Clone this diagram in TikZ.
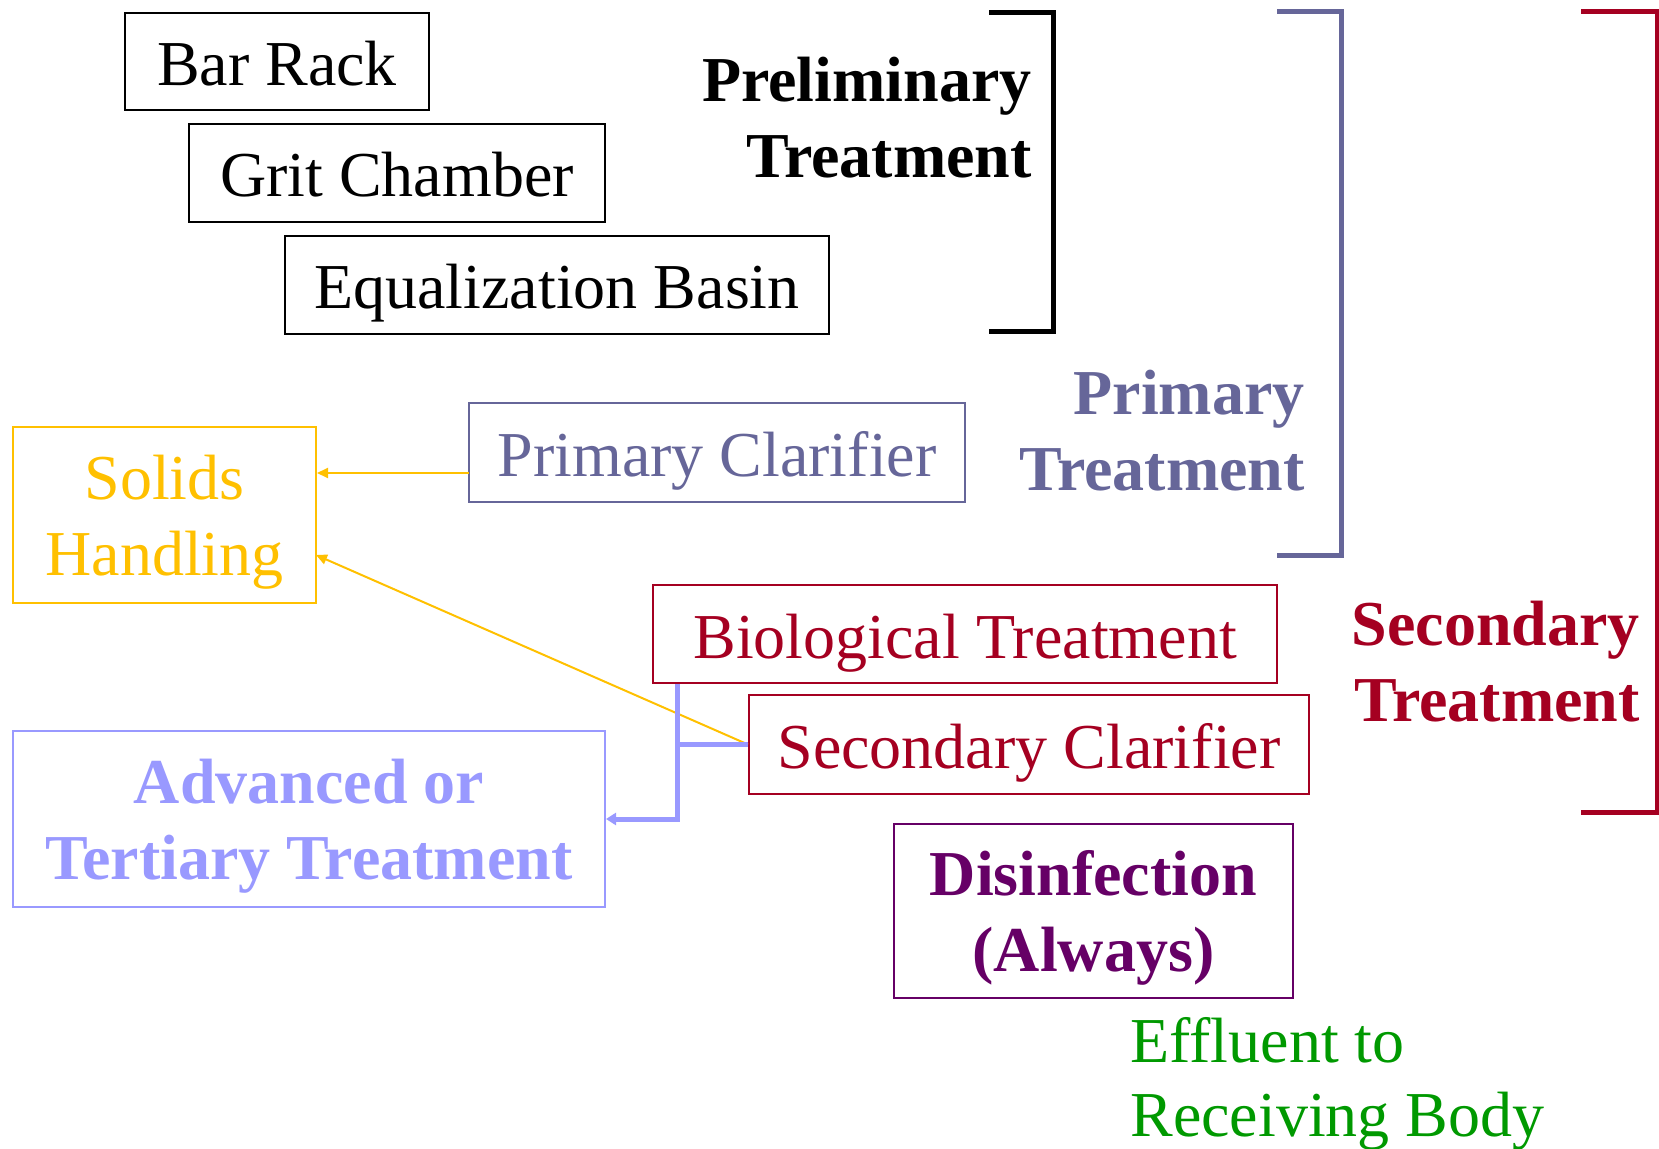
\documentclass[tikz,border=0pt]{standalone}
\usepackage{fontspec}
\setmainfont{Liberation Serif}
\usepackage{xcolor}
\usetikzlibrary{arrows.meta}
\definecolor{primcol}{RGB}{102,102,153}
\definecolor{seccol}{RGB}{165,0,33}
\definecolor{solidcol}{RGB}{255,192,0}
\definecolor{advcol}{RGB}{153,153,255}
\definecolor{discol}{RGB}{102,0,102}
\definecolor{effcol}{RGB}{0,153,0}

\begin{document}
\begin{tikzpicture}[x=0.5pt,y=-0.5pt,
  box/.style={draw, line width=1pt, inner sep=0pt, align=center, font=\fontsize{32}{38}\selectfont},
  onebox/.style={box, text height=30pt, text depth=6pt},
  twobox/.style={box, text height=67.5pt, text depth=7pt},
  treat/.style={anchor=east, inner sep=0pt, align=right, font=\bfseries\fontsize{32}{38}\selectfont},
  brack/.style={line width=2.5pt},
  ylink/.style={solidcol, line width=1pt, -{Triangle[length=5.5pt,width=5pt]}},
  blink/.style={advcol, line width=2.5pt}]
\useasboundingbox (0,0) rectangle (1659,1149);
%%%%% Preliminary %%%%%
\node[onebox, minimum width=152pt, minimum height=48.5pt] (bar) at (277,61.5) {Bar Rack};
\node[onebox, minimum width=208pt, minimum height=49pt] (grit) at (397,173) {Grit Chamber};
\node[onebox, minimum width=272pt, minimum height=49pt] (equal) at (557,285) {Equalization Basin};
\node[treat] (prelim) at (1032,118) {Preliminary\\Treatment};
\draw[brack] (989,12.5) -- (1053,12.5) -- (1053,332) -- (989,332);
%%%%% Primary %%%%%
\node[onebox, primcol, minimum width=248pt, minimum height=49.5pt] (pclar) at (717,452.5) {Primary Clarifier};
\node[treat, primcol] (prim) at (1305,431) {Primary\\Treatment};
\draw[brack, primcol] (1277,12) -- (1341,12) -- (1341,556) -- (1277,556);
%%%%% Solids %%%%%
\node[twobox, solidcol, minimum width=151.5pt, minimum height=88pt] (solids) at (164.5,515) {Solids\\Handling};
%%%%% Secondary %%%%%
\node[onebox, seccol, minimum width=312pt, minimum height=49pt] (bio) at (965,634) {Biological Treatment};
\node[onebox, seccol, minimum width=280pt, minimum height=49.5pt] (sclar) at (1029,744.5) {Secondary Clarifier};
\node[treat, seccol] (sec) at (1640,662) {Secondary\\Treatment};
\draw[brack, seccol] (1581,12) -- (1657,12) -- (1657,812) -- (1581,812);
%%%%% Advanced %%%%%
\node[twobox, advcol, font=\bfseries\fontsize{32}{38}\selectfont, minimum width=296pt, minimum height=88pt] (adv) at (309,819) {Advanced or\\Tertiary Treatment};
%%%%% Disinfection %%%%%
\node[twobox, discol, font=\bfseries\fontsize{32}{38}\selectfont, minimum width=199.5pt, minimum height=87pt] (disinf) at (1093.5,911) {Disinfection\\(Always)};
\node[effcol, anchor=west, inner sep=0pt, align=left, font=\fontsize{32}{37}\selectfont] (eff) at (1130,1084) {Effluent to\\Receiving Body};
%%%%% Links %%%%%
\coordinate (pc) at (469,473);
\coordinate (sh) at (316,555);
\coordinate (bj) at (677,744.5);
\draw[ylink] (pc) -- (pc -| solids.east);
\draw[ylink] (sclar.west) -- (sh);
\draw[blink] (sclar.west) -- (bj);
\draw[blink, -{Triangle[length=5pt,width=6pt]}] (bio.south -| bj) -- (bj |- adv.east) -- (adv.east);
\end{tikzpicture}
\end{document}
